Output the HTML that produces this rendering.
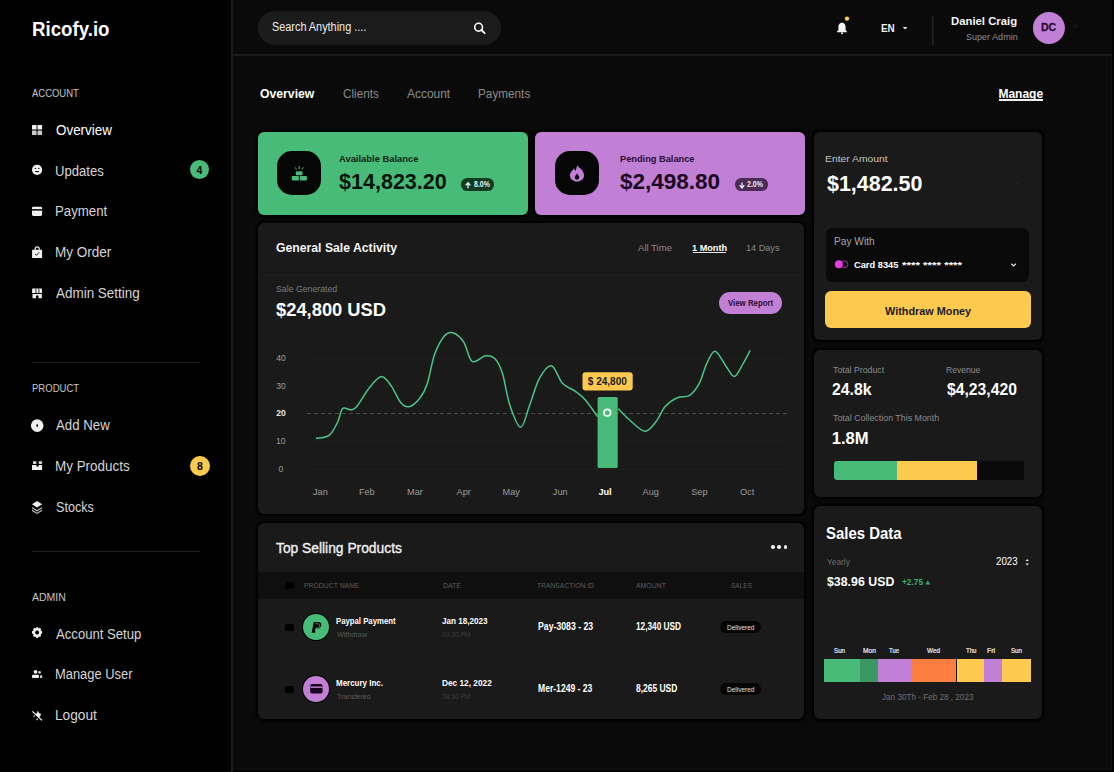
<!DOCTYPE html>
<html><head><meta charset="utf-8">
<style>
*{margin:0;padding:0;box-sizing:border-box}
html,body{width:1114px;height:772px;overflow:hidden;background:#000;font-family:"Liberation Sans",sans-serif;color:#fff}
.t{position:absolute;white-space:nowrap;line-height:1}
.b{position:absolute}
.card{position:absolute;background:#1a1a1a;border-radius:6px;box-shadow:0 0 3px 2px #000}
svg{position:absolute;left:0;top:0}
</style></head>
<body>
<div class="b" style="left:0;top:0;width:231px;height:772px;background:#000"></div><div class="b" style="left:233px;top:0;width:879px;height:770px;background:#0a0a0a"></div><div class="b" style="left:231px;top:0;width:2px;height:772px;background:#1b1b1b"></div><div class="b" style="left:233px;top:54px;width:879px;height:2px;background:#1b1b1b"></div><div class="b" style="left:1111px;top:56px;width:1px;height:714px;background:#101010"></div><div class="b" style="left:233px;top:769px;width:879px;height:1px;background:#101010"></div><div class="t" style="left:32.26px;top:18.22px;font-size:21px;font-weight:700;color:#fff;transform:scaleX(0.8893);transform-origin:0 0;">Ricofy.io</div>
<div class="t" style="left:32.36px;top:88.49px;font-size:11px;font-weight:400;color:#c4c4c4;transform:scaleX(0.8603);transform-origin:0 0;">ACCOUNT</div>
<div class="t" style="left:31.62px;top:383.49px;font-size:11px;font-weight:400;color:#c4c4c4;transform:scaleX(0.8665);transform-origin:0 0;">PRODUCT</div>
<div class="t" style="left:32.35px;top:591.69px;font-size:11px;font-weight:400;color:#c4c4c4;transform:scaleX(0.9536);transform-origin:0 0;">ADMIN</div>
<div class="t" style="left:55.88px;top:123.05px;font-size:14px;font-weight:400;color:#ffffff;transform:scaleX(0.9576);transform-origin:0 0;">Overview</div>
<div class="t" style="left:55.47px;top:163.55px;font-size:14px;font-weight:400;color:#d6d6d6;transform:scaleX(0.9337);transform-origin:0 0;">Updates</div>
<div class="t" style="left:55.41px;top:204.35px;font-size:14px;font-weight:400;color:#d6d6d6;transform:scaleX(0.9463);transform-origin:0 0;">Payment</div>
<div class="t" style="left:55.39px;top:245.15px;font-size:14px;font-weight:400;color:#d6d6d6;transform:scaleX(0.9649);transform-origin:0 0;">My Order</div>
<div class="t" style="left:56.45px;top:286.05px;font-size:14px;font-weight:400;color:#d6d6d6;transform:scaleX(0.9606);transform-origin:0 0;">Admin Setting</div>
<div class="t" style="left:56.45px;top:418.25px;font-size:14px;font-weight:400;color:#d6d6d6;transform:scaleX(0.9454);transform-origin:0 0;">Add New</div>
<div class="t" style="left:55.40px;top:459.25px;font-size:14px;font-weight:400;color:#d6d6d6;transform:scaleX(0.9599);transform-origin:0 0;">My Products</div>
<div class="t" style="left:55.91px;top:500.15px;font-size:14px;font-weight:400;color:#d6d6d6;transform:scaleX(0.9009);transform-origin:0 0;">Stocks</div>
<div class="t" style="left:56.45px;top:627.05px;font-size:14px;font-weight:400;color:#d6d6d6;transform:scaleX(0.9375);transform-origin:0 0;">Account Setup</div>
<div class="t" style="left:55.44px;top:667.15px;font-size:14px;font-weight:400;color:#d6d6d6;transform:scaleX(0.9214);transform-origin:0 0;">Manage User</div>
<div class="t" style="left:55.37px;top:707.85px;font-size:14px;font-weight:400;color:#d6d6d6;transform:scaleX(0.9784);transform-origin:0 0;">Logout</div>
<div class="b" style="left:32px;top:362px;width:168px;height:1px;background:#1e1e1e"></div><div class="b" style="left:32px;top:551px;width:168px;height:1px;background:#1e1e1e"></div><div class="b" style="left:189.6px;top:159.7px;width:19.8px;height:19.8px;border-radius:50%;background:#48bb78"></div><div class="t" style="left:196.53px;top:164.51px;font-size:10.5px;font-weight:700;color:#000;">4</div>
<div class="b" style="left:189.9px;top:455.9px;width:19.8px;height:19.8px;border-radius:50%;background:#fdc94f"></div><div class="t" style="left:196.98px;top:460.71px;font-size:10.5px;font-weight:700;color:#000;">8</div>
<svg width="1114" height="772" viewBox="0 0 1114 772">
<g fill="#f0f0f0">
<rect x="32" y="125" width="4.6" height="4.6" rx="0.6"/><rect x="37.5" y="125" width="4.6" height="4.6" rx="0.6"/>
<rect x="32" y="130.4" width="4.6" height="4.6" rx="0.6" fill="#c8c8c8"/><rect x="37.5" y="130.4" width="4.6" height="4.6" rx="0.6" fill="#c8c8c8"/>
<circle cx="37.05" cy="169.8" r="5.1"/>
<rect x="32" y="206.8" width="10.1" height="9.1" rx="1.3"/>
<path d="M32.1 249.8 H42.1 V257.9 H32.1 Z M34.6 250 V248.8 A2.6 2.6 0 0 1 39.8 248.8 V250 H38.6 V248.8 A1.4 1.4 0 0 0 35.8 248.8 V250 Z"/>
<path d="M32.3 288.6 H41.9 L42.1 293 H32 Z"/>
<path d="M32.5 293.9 H41.8 V298.2 H38.5 V295.4 H36 V298.2 H32.5 Z"/>
<circle cx="37.2" cy="425.6" r="6.3"/>
<rect x="33" y="461.2" width="3.4" height="2.8" fill="#cfcfcf"/><rect x="38.7" y="461.2" width="3.4" height="2.8" fill="#cfcfcf"/>
<path d="M32 464.9 H36.4 V466.6 H38.7 V464.9 H42.1 V470.1 H32 Z"/>
<path d="M37.05 500.9 L42.1 504.3 L37.05 507.5 L32 504.3 Z"/>
<path d="M32 507 L37.05 510.2 L42.1 507 L42.1 508.3 L37.05 511.5 L32 508.3 Z" fill="#cfcfcf"/>
<path d="M32 509.6 L37.05 512.8 L42.1 509.6 L42.1 510.9 L37.05 514 L32 510.9 Z" fill="#bdbdbd"/>
<circle cx="35.5" cy="671.8" r="1.9"/><circle cx="39.6" cy="672.3" r="1.4" fill="#d0d0d0"/>
<rect x="32" y="674.8" width="7" height="3.3" rx="0.8"/><rect x="40" y="675.2" width="2.2" height="2.8" rx="0.6" fill="#d0d0d0"/>
<path d="M32.4 711.4 L42 720.4" stroke="#f0f0f0" stroke-width="1.3" fill="none"/>
<path d="M37.8 710.6 L38.9 713.1 L41.1 714.1 L40.1 716.3 L38.8 717.7 L35.5 714.8 L36.9 713.1 Z"/><rect x="33.4" y="715.3" width="1.6" height="1.6" fill="#9a9a9a"/><rect x="36.3" y="718.6" width="1.8" height="1.6" fill="#bdbdbd"/>
</g>
<g fill="#000">
<circle cx="35.4" cy="168.4" r="0.7"/><circle cx="38.8" cy="168.4" r="0.7"/>
<path d="M34.6 170.9 Q37.05 173.6 39.5 170.9 Z"/>
<rect x="32" y="209.1" width="10.1" height="1.5"/>
<path d="M35 254 L36.5 255.3 L39.2 252.3" stroke="#000" stroke-width="0.9" fill="none"/>
<rect x="35.5" y="288.6" width="0.8" height="4.4"/><rect x="38.5" y="288.6" width="0.8" height="4.4"/>
<rect x="36.4" y="425.1" width="1.6" height="1" /><rect x="36.7" y="424.1" width="1" height="3"/>
<circle cx="37.1" cy="632.5" r="1.5"/>
</g>
<path fill="#f0f0f0" fill-rule="evenodd" d="M36.1 627.2 H38.1 L38.5 628.5 L39.8 627.8 L41.2 629.2 L40.6 630.5 L42.1 631.3 V633.5 L40.6 634.3 L41.2 635.7 L39.8 637.1 L38.5 636.4 L38.1 638 H36.1 L35.7 636.4 L34.4 637.1 L33 635.7 L33.6 634.3 L32 633.5 V631.3 L33.6 630.5 L33 629.2 L34.4 627.8 L35.7 628.5 Z M37.1 630.5 A2 2 0 1 0 37.11 630.5 Z"/>
</svg><div class="b" style="left:257.5px;top:11px;width:243px;height:34px;border-radius:17px;background:#1b1b1b"></div><div class="t" style="left:271.72px;top:21.22px;font-size:12.5px;font-weight:400;color:#ececec;transform:scaleX(0.8697);transform-origin:0 0;">Search Anything ....</div>
<svg width="1114" height="772"><circle cx="478.6" cy="27.2" r="3.9" stroke="#fff" stroke-width="1.6" fill="none"/><path d="M481.4 30 L484.6 33.2" stroke="#fff" stroke-width="1.8" stroke-linecap="round"/>
<path fill="#f4f4f4" d="M842 22.8 C839.2 22.8 838.4 25.2 838.4 27.4 V30.2 L837 31.6 V32.2 H847 V31.6 L845.6 30.2 V27.4 C845.6 25.2 844.8 22.8 842 22.8 Z"/><circle cx="842" cy="33.2" r="1" fill="#f4f4f4"/>
<circle cx="847" cy="18.6" r="2.2" fill="#fdc94f"/>
<path d="M902.8 27 H907.4 L905.1 29.4 Z" fill="#e8e8e8"/>
<rect x="932" y="16" width="1.5" height="29" fill="#262626"/>
<circle cx="1048.9" cy="28" r="16" fill="#c27fd6"/>
<path d="M1071 24.5 H1080 L1075.5 29 Z" fill="#141414"/>
</svg><div class="t" style="left:880.94px;top:22.81px;font-size:10.5px;font-weight:700;color:#f0f0f0;transform:scaleX(0.9394);transform-origin:0 0;">EN</div>
<div class="t" style="left:950.63px;top:15.91px;font-size:11.8px;font-weight:700;color:#f4f4f4;transform:scaleX(0.9606);transform-origin:0 0;">Daniel Craig</div>
<div class="t" style="left:965.58px;top:31.87px;font-size:9.6px;font-weight:400;color:#8e8e8e;transform:scaleX(0.9406);transform-origin:0 0;">Super Admin</div>
<div class="t" style="left:1041.18px;top:22.39px;font-size:11px;font-weight:700;color:#2b0a36;transform:scaleX(0.9562);transform-origin:0 0;-webkit-text-stroke:0.3px #2b0a36;">DC</div>
<div class="t" style="left:260.49px;top:88.04px;font-size:12px;font-weight:700;color:#fff;transform:scaleX(1.0189);transform-origin:0 0;">Overview</div>
<div class="t" style="left:343.23px;top:87.99px;font-size:12.3px;font-weight:400;color:#8c8c8c;transform:scaleX(0.9521);transform-origin:0 0;">Clients</div>
<div class="t" style="left:407.05px;top:88.09px;font-size:12.3px;font-weight:400;color:#8c8c8c;transform:scaleX(0.9718);transform-origin:0 0;">Account</div>
<div class="t" style="left:477.74px;top:88.09px;font-size:12.3px;font-weight:400;color:#8c8c8c;transform:scaleX(0.9559);transform-origin:0 0;">Payments</div>
<div class="t" style="left:998.40px;top:88.04px;font-size:12px;font-weight:700;color:#fff;">Manage</div>
<div class="b" style="left:999px;top:99.3px;width:43.5px;height:1.3px;background:#f0f0f0"></div>
<div class="card" style="left:258px;top:132px;width:269.7px;height:82.8px;background:#48bb78;border-radius:6px"></div>
<div class="card" style="left:535px;top:132px;width:270px;height:82.8px;background:#c27fd6;border-radius:6px"></div>
<div class="card" style="left:813.5px;top:132px;width:228.7px;height:208px;background:#1a1a1a;border-radius:6px"></div>
<div class="card" style="left:258px;top:223px;width:546.3px;height:291px;background:#1a1a1a;border-radius:6px"></div>
<div class="card" style="left:813.5px;top:349.5px;width:228.7px;height:147.3px;background:#1a1a1a;border-radius:6px"></div>
<div class="card" style="left:258px;top:523px;width:546.3px;height:195.5px;background:#1a1a1a;border-radius:6px"></div>
<div class="card" style="left:813.5px;top:506px;width:228.7px;height:212.5px;background:#1a1a1a;border-radius:6px"></div>
<div class="b" style="left:277.4px;top:151.2px;width:43.6px;height:43.6px;border-radius:15px;background:#060606"></div><div class="t" style="left:338.85px;top:155.13px;font-size:9.3px;font-weight:700;color:#0c2417;transform:scaleX(1.0096);transform-origin:0 0;">Available Balance</div>
<div class="t" style="left:339.10px;top:172.10px;font-size:21.5px;font-weight:700;color:#06140c;">$14,823.20</div>
<div class="b" style="left:461.1px;top:178.1px;width:32.9px;height:12.5px;border-radius:6.3px;background:#0f3b23"></div><div class="t" style="left:473.79px;top:181.06px;font-size:8.2px;font-weight:700;color:#e6f4ea;transform:scaleX(0.8493);transform-origin:0 0;">8.0%</div>
<div class="b" style="left:555.1px;top:151.2px;width:43.9px;height:43.6px;border-radius:15px;background:#060606"></div><div class="t" style="left:620.00px;top:155.13px;font-size:9.3px;font-weight:700;color:#2a0d33;transform:scaleX(0.9946);transform-origin:0 0;">Pending Balance</div>
<div class="t" style="left:620.29px;top:172.10px;font-size:21.5px;font-weight:700;color:#1a0620;transform:scaleX(1.0455);transform-origin:0 0;">$2,498.80</div>
<div class="b" style="left:735.3px;top:178.1px;width:33px;height:12.5px;border-radius:6.3px;background:#4a2d55"></div><div class="t" style="left:747.24px;top:181.06px;font-size:8.2px;font-weight:700;color:#f2e6f5;transform:scaleX(0.8516);transform-origin:0 0;">2.0%</div>
<div class="t" style="left:824.95px;top:154.29px;font-size:9.7px;font-weight:400;color:#c4c4c4;transform:scaleX(1.0682);transform-origin:0 0;">Enter Amount</div>
<div class="t" style="left:826.61px;top:172.85px;font-size:22.5px;font-weight:700;color:#fff;transform:scaleX(0.9525);transform-origin:0 0;">$1,482.50</div>
<div class="b" style="left:825.9px;top:227.9px;width:203.6px;height:54.4px;border-radius:6px;background:#0a0a0a"></div><div class="t" style="left:833.85px;top:236.36px;font-size:10.8px;font-weight:400;color:#a8a8a8;transform:scaleX(0.9399);transform-origin:0 0;">Pay With</div>
<div class="t" style="left:853.71px;top:259.67px;font-size:9.6px;font-weight:700;color:#fff;transform:scaleX(0.9680);transform-origin:0 0;">Card 8345</div>
<div class="t" style="left:901.94px;top:259.67px;font-size:9.6px;font-weight:700;color:#fff;transform:scaleX(1.1976);transform-origin:0 0;">**** **** ****</div>
<div class="b" style="left:825.1px;top:291.3px;width:205.5px;height:37px;border-radius:6px;background:#fdc94f"></div><div class="t" style="left:885.00px;top:306.29px;font-size:11px;font-weight:700;color:#1b1b1b;transform:scaleX(0.9868);transform-origin:0 0;">Withdraw Money</div>
<div class="t" style="left:275.52px;top:242.06px;font-size:12.8px;font-weight:700;color:#f4f4f4;transform:scaleX(0.9549);transform-origin:0 0;">General Sale Activity</div>
<div class="t" style="left:638.40px;top:242.56px;font-size:9.5px;font-weight:400;color:#8a8a8a;transform:scaleX(1.0075);transform-origin:0 0;">All Time</div>
<div class="t" style="left:692.02px;top:242.56px;font-size:9.5px;font-weight:700;color:#fff;transform:scaleX(0.9631);transform-origin:0 0;">1 Month</div>
<div class="b" style="left:692.6px;top:252.2px;width:33.9px;height:1px;background:#e8e8e8"></div><div class="t" style="left:746.13px;top:242.56px;font-size:9.5px;font-weight:400;color:#8a8a8a;transform:scaleX(0.9615);transform-origin:0 0;">14 Days</div>
<div class="b" style="left:258px;top:272px;width:546px;height:1px;background:#151515"></div><div class="t" style="left:275.60px;top:284.65px;font-size:8.8px;font-weight:400;color:#7c7c7c;transform:scaleX(0.9934);transform-origin:0 0;">Sale Generated</div>
<div class="t" style="left:275.74px;top:301.60px;font-size:17.6px;font-weight:700;color:#fff;transform:scaleX(1.0420);transform-origin:0 0;">$24,800 USD</div>
<div class="b" style="left:718.5px;top:292.3px;width:63.4px;height:22.1px;border-radius:11px;background:#c27fd6"></div><div class="t" style="left:727.66px;top:299.18px;font-size:9px;font-weight:700;color:#2a0b33;transform:scaleX(0.8704);transform-origin:0 0;">View Report</div>
<div class="t" style="left:276.28px;top:353.82px;font-size:8.6px;font-weight:400;color:#9c9c9c;">40</div>
<div class="t" style="left:276.20px;top:381.62px;font-size:8.6px;font-weight:400;color:#9c9c9c;">30</div>
<div class="t" style="left:276.22px;top:409.22px;font-size:8.6px;font-weight:700;color:#e6e6e6;">20</div>
<div class="t" style="left:276.05px;top:437.02px;font-size:8.6px;font-weight:400;color:#9c9c9c;">10</div>
<div class="t" style="left:278.60px;top:464.82px;font-size:8.6px;font-weight:400;color:#9c9c9c;">0</div>
<div class="t" style="left:312.93px;top:488.21px;font-size:9.2px;font-weight:400;color:#9a9a9a;">Jan</div>
<div class="t" style="left:358.88px;top:488.21px;font-size:9.2px;font-weight:400;color:#9a9a9a;">Feb</div>
<div class="t" style="left:407.07px;top:488.21px;font-size:9.2px;font-weight:400;color:#9a9a9a;">Mar</div>
<div class="t" style="left:456.62px;top:488.21px;font-size:9.2px;font-weight:400;color:#9a9a9a;">Apr</div>
<div class="t" style="left:502.62px;top:488.21px;font-size:9.2px;font-weight:400;color:#9a9a9a;">May</div>
<div class="t" style="left:552.83px;top:488.21px;font-size:9.2px;font-weight:400;color:#9a9a9a;">Jun</div>
<div class="t" style="left:598.40px;top:488.21px;font-size:9.2px;font-weight:700;color:#fff;">Jul</div>
<div class="t" style="left:642.50px;top:488.21px;font-size:9.2px;font-weight:400;color:#9a9a9a;">Aug</div>
<div class="t" style="left:691.20px;top:488.21px;font-size:9.2px;font-weight:400;color:#9a9a9a;">Sep</div>
<div class="t" style="left:739.95px;top:488.21px;font-size:9.2px;font-weight:400;color:#9a9a9a;">Oct</div>
<div class="t" style="left:832.62px;top:365.16px;font-size:9.5px;font-weight:400;color:#8a8a8a;transform:scaleX(0.9211);transform-origin:0 0;">Total Product</div>
<div class="t" style="left:832.28px;top:382.05px;font-size:16.6px;font-weight:700;color:#fff;transform:scaleX(0.9512);transform-origin:0 0;">24.8k</div>
<div class="t" style="left:946.22px;top:365.16px;font-size:9.5px;font-weight:400;color:#8a8a8a;transform:scaleX(0.9009);transform-origin:0 0;">Revenue</div>
<div class="t" style="left:946.71px;top:382.05px;font-size:16.6px;font-weight:700;color:#fff;transform:scaleX(0.9472);transform-origin:0 0;">$4,23,420</div>
<div class="t" style="left:832.61px;top:413.16px;font-size:9.5px;font-weight:400;color:#8a8a8a;transform:scaleX(0.9323);transform-origin:0 0;">Total Collection This Month</div>
<div class="t" style="left:831.75px;top:430.85px;font-size:16.6px;font-weight:700;color:#fff;">1.8M</div>
<div class="b" style="left:833.6px;top:461.4px;width:190.8px;height:18.3px;border-radius:3px 0 0 3px;background:#0a0a0a;overflow:hidden"><div class="b" style="left:0;top:0;width:63.6px;height:18.3px;background:#48bb78"></div><div class="b" style="left:63.6px;top:0;width:80px;height:18.3px;background:#fdc94f"></div></div><div class="t" style="left:826.28px;top:525.66px;font-size:16px;font-weight:700;color:#fff;transform:scaleX(0.9330);transform-origin:0 0;">Sales Data</div>
<div class="t" style="left:826.53px;top:557.06px;font-size:9.5px;font-weight:400;color:#6c6c6c;transform:scaleX(0.8743);transform-origin:0 0;">Yearly</div>
<div class="t" style="left:995.70px;top:555.96px;font-size:10.8px;font-weight:400;color:#fff;transform:scaleX(0.9043);transform-origin:0 0;">2023</div>
<div class="t" style="left:826.95px;top:576.03px;font-size:12.6px;font-weight:700;color:#fff;transform:scaleX(0.9809);transform-origin:0 0;">$38.96 USD</div>
<div class="t" style="left:901.56px;top:578.22px;font-size:8.6px;font-weight:700;color:#3cae6c;transform:scaleX(0.9670);transform-origin:0 0;">+2.75</div>
<div class="b" style="left:824.1px;top:659.4px;width:36.30px;height:22.2px;background:#48bb78"></div><div class="b" style="left:860.4px;top:659.4px;width:17.30px;height:22.2px;background:#3b9764"></div><div class="b" style="left:877.7px;top:659.4px;width:33.70px;height:22.2px;background:#c27fd6"></div><div class="b" style="left:911.4px;top:659.4px;width:45.00px;height:22.2px;background:#fb7d3f"></div><div class="b" style="left:957.2px;top:659.4px;width:27.10px;height:22.2px;background:#fdc94f"></div><div class="b" style="left:984.3px;top:659.4px;width:17.30px;height:22.2px;background:#c27fd6"></div><div class="b" style="left:1001.6px;top:659.4px;width:29.60px;height:22.2px;background:#fdc94f"></div><div class="t" style="left:833.50px;top:647.01px;font-size:7.2px;font-weight:400;color:#f0f0f0;transform:scaleX(0.8667);transform-origin:0 0;-webkit-text-stroke:0.2px #f0f0f0;">Sun</div>
<div class="t" style="left:862.55px;top:647.01px;font-size:7.2px;font-weight:400;color:#f0f0f0;transform:scaleX(0.9189);transform-origin:0 0;-webkit-text-stroke:0.2px #f0f0f0;">Mon</div>
<div class="t" style="left:888.88px;top:647.01px;font-size:7.2px;font-weight:400;color:#f0f0f0;transform:scaleX(0.8291);transform-origin:0 0;-webkit-text-stroke:0.2px #f0f0f0;">Tue</div>
<div class="t" style="left:927.46px;top:647.01px;font-size:7.2px;font-weight:400;color:#f0f0f0;transform:scaleX(0.8834);transform-origin:0 0;-webkit-text-stroke:0.2px #f0f0f0;">Wed</div>
<div class="t" style="left:965.67px;top:647.01px;font-size:7.2px;font-weight:400;color:#f0f0f0;transform:scaleX(0.8475);transform-origin:0 0;-webkit-text-stroke:0.2px #f0f0f0;">Thu</div>
<div class="t" style="left:986.72px;top:647.01px;font-size:7.2px;font-weight:400;color:#f0f0f0;transform:scaleX(0.9726);transform-origin:0 0;-webkit-text-stroke:0.2px #f0f0f0;">Fri</div>
<div class="t" style="left:1010.70px;top:647.01px;font-size:7.2px;font-weight:400;color:#f0f0f0;transform:scaleX(0.8583);transform-origin:0 0;-webkit-text-stroke:0.2px #f0f0f0;">Sun</div>
<div class="t" style="left:882.16px;top:692.85px;font-size:8.8px;font-weight:400;color:#6e6e6e;transform:scaleX(0.9257);transform-origin:0 0;">Jan 30Th - Feb 28 , 2023</div>
<div class="t" style="left:276.10px;top:540.65px;font-size:14px;font-weight:400;color:#f0f0f0;transform:scaleX(0.9862);transform-origin:0 0;-webkit-text-stroke:0.35px #f0f0f0;">Top Selling Products</div>
<div class="b" style="left:258px;top:571.5px;width:546.3px;height:27px;background:#0f0f0f"></div><div class="t" style="left:304.16px;top:581.87px;font-size:7px;font-weight:400;color:#5c5c5c;transform:scaleX(0.9785);transform-origin:0 0;">PRODUCT NAME</div>
<div class="t" style="left:443.46px;top:581.87px;font-size:7px;font-weight:400;color:#5c5c5c;transform:scaleX(0.9827);transform-origin:0 0;">DATE</div>
<div class="t" style="left:537.46px;top:581.87px;font-size:7px;font-weight:400;color:#5c5c5c;transform:scaleX(0.9642);transform-origin:0 0;">TRANSACTION ID</div>
<div class="t" style="left:636.00px;top:581.87px;font-size:7px;font-weight:400;color:#5c5c5c;transform:scaleX(0.9851);transform-origin:0 0;">AMOUNT</div>
<div class="t" style="left:731.17px;top:581.87px;font-size:7px;font-weight:400;color:#5c5c5c;transform:scaleX(0.9315);transform-origin:0 0;">SALES</div>
<div class="b" style="left:316.35px;top:627.3px;width:27.8px;height:27.8px;margin:-13.9px 0 0 -13.9px;border-radius:50%;background:#000"></div><div class="b" style="left:316.35px;top:627.3px;width:25.8px;height:25.8px;margin:-12.9px 0 0 -12.9px;border-radius:50%;background:#48bb78"></div><div class="t" style="left:336.19px;top:617.21px;font-size:9.2px;font-weight:700;color:#fff;transform:scaleX(0.8447);transform-origin:0 0;">Paypal Payment</div>
<div class="t" style="left:336.65px;top:630.85px;font-size:7.5px;font-weight:400;color:#5a5a5a;transform:scaleX(0.9632);transform-origin:0 0;">Withdraw</div>
<div class="t" style="left:442.07px;top:617.21px;font-size:9.2px;font-weight:700;color:#fff;transform:scaleX(0.8828);transform-origin:0 0;">Jan 18,2023</div>
<div class="t" style="left:441.96px;top:631.27px;font-size:7px;font-weight:400;color:#3c3c3c;transform:scaleX(0.9468);transform-origin:0 0;">09:30 PM</div>
<div class="t" style="left:537.81px;top:622.20px;font-size:10.4px;font-weight:700;color:#fff;transform:scaleX(0.8373);transform-origin:0 0;">Pay-3083 - 23</div>
<div class="t" style="left:635.68px;top:622.20px;font-size:10.4px;font-weight:700;color:#fff;transform:scaleX(0.7968);transform-origin:0 0;">12,340 USD</div>
<div class="b" style="left:720.3px;top:620.5px;width:40.6px;height:12.8px;border-radius:6.4px;background:#050505"></div><div class="t" style="left:726.76px;top:624.81px;font-size:6.6px;font-weight:400;color:#e0e0e0;transform:scaleX(0.9851);transform-origin:0 0;">Delivered</div>
<div class="b" style="left:285.2px;top:623.7px;width:8.8px;height:7.4px;border-radius:1.6px;background:#000"></div><div class="b" style="left:316.35px;top:689px;width:27.8px;height:27.8px;margin:-13.9px 0 0 -13.9px;border-radius:50%;background:#000"></div><div class="b" style="left:316.35px;top:689px;width:25.8px;height:25.8px;margin:-12.9px 0 0 -12.9px;border-radius:50%;background:#c27fd6"></div><div class="t" style="left:336.18px;top:679.21px;font-size:9.2px;font-weight:700;color:#fff;transform:scaleX(0.8660);transform-origin:0 0;">Mercury Inc.</div>
<div class="t" style="left:336.56px;top:692.85px;font-size:7.5px;font-weight:400;color:#5a5a5a;transform:scaleX(0.9335);transform-origin:0 0;">Transfered</div>
<div class="t" style="left:441.66px;top:679.21px;font-size:9.2px;font-weight:700;color:#fff;transform:scaleX(0.9024);transform-origin:0 0;">Dec 12, 2022</div>
<div class="t" style="left:441.96px;top:693.27px;font-size:7px;font-weight:400;color:#3c3c3c;transform:scaleX(0.9468);transform-origin:0 0;">08:50 PM</div>
<div class="t" style="left:537.82px;top:684.20px;font-size:10.4px;font-weight:700;color:#fff;transform:scaleX(0.8256);transform-origin:0 0;">Mer-1249 - 23</div>
<div class="t" style="left:635.92px;top:684.20px;font-size:10.4px;font-weight:700;color:#fff;transform:scaleX(0.8124);transform-origin:0 0;">8,265 USD</div>
<div class="b" style="left:720.3px;top:682.5px;width:40.6px;height:12.8px;border-radius:6.4px;background:#050505"></div><div class="t" style="left:726.76px;top:686.81px;font-size:6.6px;font-weight:400;color:#e0e0e0;transform:scaleX(0.9851);transform-origin:0 0;">Delivered</div>
<div class="b" style="left:285.2px;top:685.7px;width:8.8px;height:7.4px;border-radius:1.6px;background:#000"></div><div class="b" style="left:285.2px;top:581.5px;width:8.8px;height:7.5px;border-radius:1.6px;background:#000"></div><div class="b" style="left:771.2px;top:545.3px;width:3.6px;height:3.6px;border-radius:50%;background:#f0f0f0"></div><div class="b" style="left:777.4000000000001px;top:545.3px;width:3.6px;height:3.6px;border-radius:50%;background:#f0f0f0"></div><div class="b" style="left:783.6px;top:545.3px;width:3.6px;height:3.6px;border-radius:50%;background:#f0f0f0"></div><svg width="1114" height="772" viewBox="0 0 1114 772"><line x1="307" x2="787" y1="358.1" y2="358.1" stroke="#202020" stroke-width="1"/><line x1="307" x2="787" y1="385.9" y2="385.9" stroke="#202020" stroke-width="1"/><line x1="307" x2="787" y1="441.3" y2="441.3" stroke="#202020" stroke-width="1"/><line x1="307" x2="787" y1="469.1" y2="469.1" stroke="#202020" stroke-width="1"/><line x1="307" x2="787" y1="413.5" y2="413.5" stroke="#4a4a4a" stroke-width="1" stroke-dasharray="4 3"/><path d="M315.9 438.4 C318.1 437.9 325.6 438.0 329.2 435.3 C332.8 432.6 335.5 426.4 337.7 422.0 C339.9 417.6 340.4 410.6 342.6 408.6 C344.8 406.6 348.6 410.2 351.0 409.8 C353.4 409.4 354.1 409.8 357.1 406.2 C360.1 402.6 365.2 392.9 369.2 388.0 C373.2 383.1 377.7 377.0 381.3 376.6 C384.9 376.2 387.8 381.3 391.0 385.6 C394.2 389.9 397.7 399.1 400.7 402.6 C403.7 406.1 406.0 407.5 409.2 406.7 C412.4 405.9 417.1 401.6 420.1 397.7 C423.1 393.8 425.0 390.5 427.4 383.2 C429.8 375.9 431.9 362.0 434.7 354.1 C437.5 346.2 441.4 339.4 444.4 335.9 C447.4 332.3 449.6 331.8 452.8 332.8 C456.0 333.8 460.5 337.2 463.7 342.0 C466.9 346.8 468.5 359.1 472.2 361.4 C475.9 363.7 481.8 356.2 485.6 355.8 C489.4 355.4 492.4 355.9 495.2 358.9 C498.0 361.8 500.1 365.8 502.5 373.5 C504.9 381.2 506.8 396.0 509.8 405.0 C512.8 414.0 517.4 427.3 520.7 427.3 C524.0 427.3 526.6 413.2 529.7 405.0 C532.8 396.8 535.8 384.9 539.4 378.3 C543.0 371.8 547.7 364.9 551.5 365.7 C555.3 366.5 558.4 378.9 562.4 383.2 C566.4 387.5 571.9 388.8 575.7 391.6 C579.5 394.4 581.8 395.9 585.4 400.1 C589.0 404.3 595.6 413.9 597.6 416.6" fill="none" stroke="#4cc38a" stroke-width="1.5"/><path d="M618.2 408.6 C620.0 410.4 624.7 415.7 629.1 419.5 C633.5 423.3 640.4 430.8 644.8 431.2 C649.2 431.6 652.3 426.2 655.7 422.0 C659.1 417.8 661.8 410.2 665.4 406.2 C669.0 402.1 673.5 399.5 677.5 397.7 C681.5 395.9 686.1 397.7 689.7 395.3 C693.4 392.9 696.6 388.4 699.4 383.2 C702.2 377.9 704.0 369.1 706.6 363.8 C709.2 358.5 711.9 350.8 715.1 351.2 C718.3 351.6 722.8 362.0 726.0 366.2 C729.2 370.4 731.7 376.8 734.5 376.4 C737.3 376.0 740.4 368.1 743.0 363.8 C745.6 359.5 749.0 352.6 750.2 350.4" fill="none" stroke="#4cc38a" stroke-width="1.5"/><rect x="597.6" y="397" width="20.1" height="71" rx="1.5" fill="#48bb78"/><circle cx="607.3" cy="412.7" r="3.3" fill="none" stroke="#fff" stroke-width="1.6"/><rect x="582.5" y="372.3" width="50.2" height="18.1" rx="3" fill="#fdc94f"/><g fill="#48bb78">
<rect x="291.8" y="176.1" width="7.1" height="4.4" rx="0.8"/><rect x="299.8" y="176.1" width="7.1" height="4.4" rx="0.8"/>
<rect x="295.9" y="171.3" width="6.6" height="3.9" rx="0.8"/>
</g>
<g stroke="#48bb78" stroke-width="1" stroke-linecap="round"><path d="M299.2 166.4 V168.6"/><path d="M295.2 167.6 L296.4 169.2"/><path d="M303.2 167.6 L302 169.2"/></g><path fill="#c27fd6" d="M577 165.3 C578.4 167.6 584 169.8 584 175.3 C584 179.2 581 181.6 577 181.6 C573 181.6 570 179.2 570 175.3 C570 171.5 573.2 170.2 574 168.2 C574.6 169.3 575 170.4 575 171.2 C576.2 169.8 576.8 167.6 577 165.3 Z"/>
<path fill="#060606" d="M577 173.4 C578.4 175.2 579.2 176.3 579.2 177.4 C579.2 178.7 578.2 179.5 577 179.5 C575.8 179.5 574.8 178.7 574.8 177.4 C574.8 176.3 575.6 175.2 577 173.4 Z"/><path d="M468 188.3 V183.2 M465.6 185.4 L468 182.8 L470.4 185.4" stroke="#e6f4ea" stroke-width="1.3" fill="none"/><path d="M742 182.6 V187.6 M739.7 185.3 L742 187.9 L744.3 185.3" stroke="#f2e6f5" stroke-width="1.3" fill="none"/><circle cx="844.4" cy="264.3" r="3.5" fill="none" stroke="#b23bb3" stroke-width="0.9"/><circle cx="838.8" cy="264.3" r="4" fill="#e33ce0"/><path d="M1011.3 263.8 L1013.6 266 L1015.9 263.8" stroke="#e8e8e8" stroke-width="1.2" fill="none"/><path d="M1015 182.5 H1020 L1017.5 185.5 Z" fill="#222"/><path d="M1025.6 561 L1027.2 559 L1028.8 561 Z M1025.6 563.4 L1027.2 565.4 L1028.8 563.4 Z" fill="#f0f0f0"/><path d="M925.4 584.5 L927.8 580.5 L930.2 584.5 Z" fill="#3cae6c"/><path fill="#050505" d="M313.8 621.9 H318.6 C320.8 621.9 321.6 623.4 321.2 625.4 C320.7 627.7 319.1 628.6 317 628.6 H315.9 L315.1 632.7 H311.6 Z"/>
<path fill="none" stroke="#48bb78" stroke-width="0.8" d="M315.2 623.8 H318.3 C319.6 623.8 320 624.8 319.7 626 C319.3 627.6 318.2 628.1 316.9 628.1 H316 L315.3 631.4"/><rect x="310.2" y="684" width="12.4" height="9.6" rx="1.8" fill="#1a0620"/><rect x="310.2" y="686.5" width="12.4" height="1.4" fill="#c27fd6"/></svg><div class="t" style="left:587.85px;top:377.34px;font-size:10px;font-weight:700;color:#1b1b1b;">$ 24,800</div>

</body></html>
